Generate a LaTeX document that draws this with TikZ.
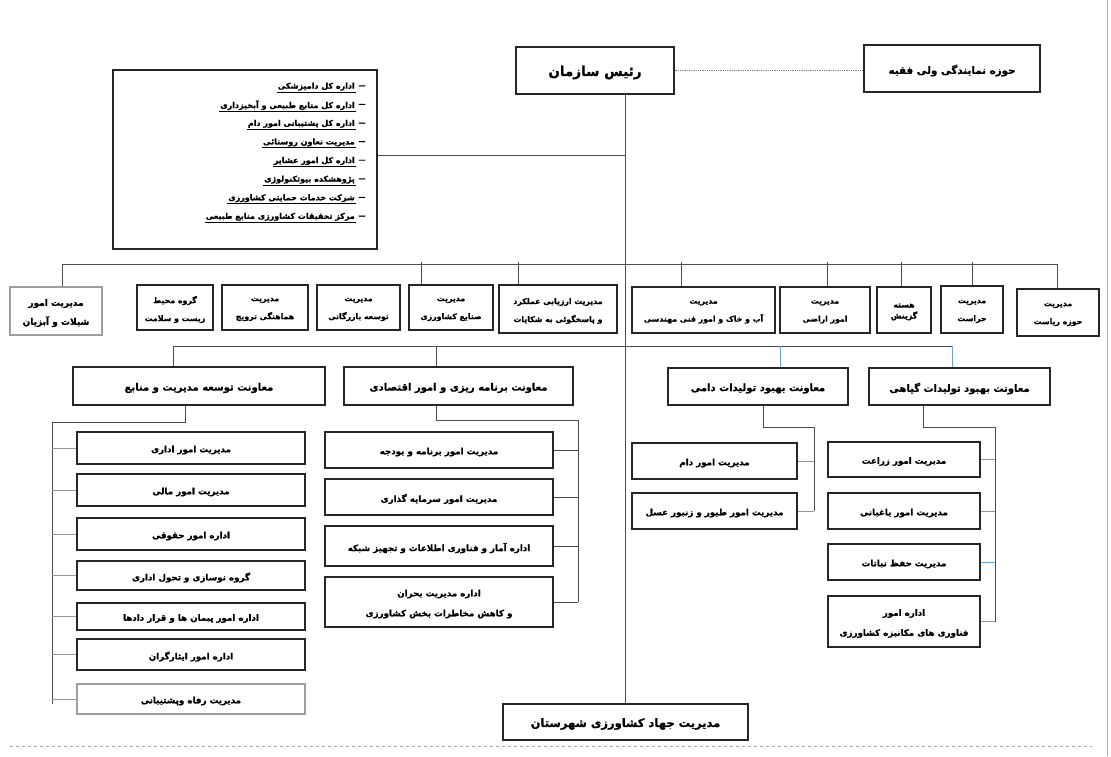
\documentclass[tikz,border=0pt]{standalone}
\usepackage{fontspec}
\newfontfamily\fa[Script=Arabic,BoldFeatures={FakeBold=0.8}]{DejaVu Sans}
\TeXXeTstate=1
\newcommand\rl[1]{\beginR #1\endR}
\newcommand\obox[7][]{%
  \node[bx,#1,minimum width={(#5-#3)*1pt},minimum height={(#6-#4)*1pt}] (#2) at ({(#3+#5)/2},{(#4+#6)/2}) {};
  \node[bx,#1,txt] (#2t) at ({(#3+#5)/2},{(#4+#6)/2+2}) {#7};}
\definecolor{bl}{RGB}{110,160,210}
\begin{document}
\begin{tikzpicture}[x=1pt,y=-1pt,
  bx/.style={draw=black!85,line width=1.1pt,fill=white,inner sep=1pt,align=center,font=\fa\bfseries\fontsize{7.8}{18}\selectfont},
  txt/.style={draw=none,fill=none},
  gbx/.style={draw=gray!75},
  fbig/.style={font=\fa\bfseries\fontsize{9}{19}\selectfont},
  fmv/.style={font=\fa\bfseries\fontsize{10}{12}\selectfont},
  fcol/.style={font=\fa\bfseries\fontsize{8.7}{20}\selectfont},
  item/.style={anchor=east,inner sep=1pt,font=\fa\bfseries\fontsize{8}{9}\selectfont},
  dashmark/.style={inner sep=0pt,font=\fa\bfseries\fontsize{7}{8}\selectfont},
  lk/.style={draw=black!70,line width=0.9pt},
  lkb/.style={draw=bl,line width=0.8pt},
  lkg/.style={draw=gray!80,line width=0.8pt},
  ]
\useasboundingbox (0,0) rectangle (1111,756);
\fill[white] (0,0) rectangle (1111,756);

% top
\obox[font=\fa\bfseries\fontsize{13.5}{16}\selectfont]{ra}{516}{47}{674}{94}{\rl{رئیس سازمان}}
\obox[font=\fa\bfseries\fontsize{10.3}{12}\selectfont]{hz}{864}{45}{1040}{92}{\rl{حوزه نمایندگی ولی فقیه}}

% list box
\obox{lb}{113}{70}{377}{249}{}
\foreach \t [count=\i] in {اداره کل دامپزشکی,اداره کل منابع طبیعی و آبخیزداری,اداره کل پشتیبانی امور دام,مدیریت تعاون روستائی,اداره کل امور عشایر,پژوهشکده بیوتکنولوژی,شرکت خدمات حمایتی کشاورزی,مرکز تحقیقات کشاورزی منابع طبیعی}{
  \node[item] (li\i) at (356,{68+18.6*\i}) {\rl{\t}};
  \draw[line width=0.5pt] (li\i.south west) -- (li\i.south east);
  \node[dashmark] (ld\i) at (362,{68+18.6*\i}) {—};
}

% row 1
\obox[gbx,fbig]{r1}{10}{287}{102}{335}{\rl{مدیریت امور}\\\rl{شیلات و آبزیان}}
\obox{r2}{137}{285}{213}{330}{\rl{گروه محیط}\\\rl{زیست و سلامت}}
\obox{r3}{222}{285}{308}{330}{\rl{مدیریت}\\\rl{هماهنگی ترویج}}
\obox{r4}{317}{285}{400}{330}{\rl{مدیریت}\\\rl{توسعه بازرگانی}}
\obox{r5}{409}{285}{493}{330}{\rl{مدیریت}\\\rl{صنایع کشاورزی}}
\obox{r6}{499}{285}{617}{333}{\rl{مدیریت ارزیابی عملکرد}\\\rl{و پاسخگوئی به شکایات}}
\obox{r7}{632}{287}{775}{333}{\rl{مدیریت}\\\rl{آب و خاک و امور فنی مهندسی}}
\obox{r8}{780}{287}{870}{333}{\rl{مدیریت}\\\rl{امور اراضی}}
\obox[font=\fa\bfseries\fontsize{7.8}{11}\selectfont]{r9}{877}{287}{931}{333}{\rl{هسته}\\\rl{گزینش}}
\obox{r10}{941}{286}{1003}{333}{\rl{مدیریت}\\\rl{حراست}}
\obox{r11}{1017}{289}{1099}{336}{\rl{مدیریت}\\\rl{حوزه ریاست}}

% deputies
\obox[fmv]{m1}{73}{367}{325}{405}{\rl{معاونت توسعه مدیریت و منابع}}
\obox[fmv]{m2}{344}{367}{573}{405}{\rl{معاونت برنامه ریزی و امور اقتصادی}}
\obox[fmv]{m3}{668}{368}{848}{405}{\rl{معاونت بهبود تولیدات دامی}}
\obox[fmv]{m4}{869}{368}{1050}{405}{\rl{معاونت بهبود تولیدات گیاهی}}

% left column
\obox[fcol]{c1}{77}{432}{305}{464}{\rl{مدیریت امور اداری}}
\obox[fcol]{c2}{77}{474}{305}{506}{\rl{مدیریت امور مالی}}
\obox[fcol]{c3}{77}{518}{305}{550}{\rl{اداره امور حقوقی}}
\obox[fcol]{c4}{77}{561}{305}{590}{\rl{گروه نوسازی و تحول اداری}}
\obox[fcol]{c5}{77}{603}{305}{630}{\rl{اداره امور پیمان ها و قرار دادها}}
\obox[fcol]{c6}{77}{639}{305}{670}{\rl{اداره امور ایثارگران}}
\obox[fcol,gbx]{c7}{77}{684}{305}{714}{\rl{مدیریت رفاه وپشتیبانی}}

% middle column
\obox[fcol]{p1}{325}{432}{553}{468}{\rl{مدیریت امور برنامه و بودجه}}
\obox[fcol]{p2}{325}{479}{553}{515}{\rl{مدیریت امور سرمایه گذاری}}
\obox[fcol]{p3}{325}{526}{553}{566}{\rl{اداره آمار و فناوری اطلاعات و تجهیز شبکه}}
\obox[fcol]{p4}{325}{577}{553}{627}{\rl{اداره مدیریت بحران}\\\rl{و کاهش مخاطرات بخش کشاورزی}}

% livestock column
\obox[fcol]{d1}{632}{443}{797}{479}{\rl{مدیریت امور دام}}
\obox[fcol]{d2}{632}{493}{797}{529}{\rl{مدیریت امور طیور و زنبور عسل}}

% plant column
\obox[fcol]{g1}{828}{442}{980}{477}{\rl{مدیریت امور زراعت}}
\obox[fcol]{g2}{828}{493}{980}{529}{\rl{مدیریت امور باغبانی}}
\obox[fcol]{g3}{828}{544}{980}{580}{\rl{مدیریت حفظ نباتات}}
\obox[fcol]{g4}{828}{596}{980}{647}{\rl{اداره امور}\\\rl{فناوری های مکانیزه کشاورزی}}

% bottom
\obox[font=\fa\bfseries\fontsize{11.5}{14}\selectfont]{bt}{503}{704}{748}{740}{\rl{مدیریت جهاد کشاورزی شهرستان}}

% connectors
\draw[densely dotted,gray,line width=0.8pt] (ra.east) -- (ra.east -| hz.west);
\coordinate (j1) at (625,155);
\draw[lk] (j1) -- (j1 -| lb.east);
\draw[lk] (bt.north |- ra.south) -- (bt.north);

\coordinate (t1) at (62,264);
\coordinate (t11) at (1057,264);
\draw[lk] (t1 |- r1.north) -- (t1) -- (t11) -- (t11 |- r11.north);
\foreach \n/\x in {r5/421,r6/518,r7/681,r8/827,r9/901,r10/972}
  \draw[lk] (\x,262) -- (\x,0 |- \n.north);

\coordinate (s1) at (173,346);
\coordinate (s4) at (952,346);
\draw[lk] (s1 |- m1.north) -- (s1) -- (s4);
\draw[lk] (436,346) -- (436,0 |- m2.north);
\draw[lkb] (780,346) -- (780,0 |- m3.north);
\draw[lkb] (s4) -- (s4 |- m4.north);

\draw[lk] (185,0 |- m1.south) -- (185,422) -- (52,422) -- (52,704);
\foreach \n in {c1,c2,c3,c4,c5,c6,c7}
  \draw[lkg] (52,0 |- \n.west) -- (\n.west);

\draw[lk] (436,0 |- m2.south) -- (436,420) -- (578,420) -- (578,0 |- p4.east);
\foreach \n in {p1,p2,p3,p4}
  \draw[lk] (\n.east) -- (\n.east -| 578,0);

\draw[lk] (763,0 |- m3.south) -- (763,427) -- (814,427) -- (814,0 |- d2.east);
\foreach \n in {d1,d2}
  \draw[lkb] (\n.east) -- (\n.east -| 814,0);

\draw[lk] (923,0 |- m4.south) -- (923,427) -- (995,427) -- (995,0 |- g4.east);
\foreach \n in {g1,g2,g3,g4}
  \draw[lkb] (\n.east) -- (\n.east -| 995,0);

% page marks
\coordinate (e1) at (10,746);
\coordinate (e2) at (1092,746);
\draw[gray!70,dashed,line width=0.6pt] (e1) -- (e2);
\coordinate (f1) at (1107,0);
\coordinate (f2) at (1107,756);
\draw[gray!60,line width=0.6pt] (f1) -- (f2);
\end{tikzpicture}
\end{document}
